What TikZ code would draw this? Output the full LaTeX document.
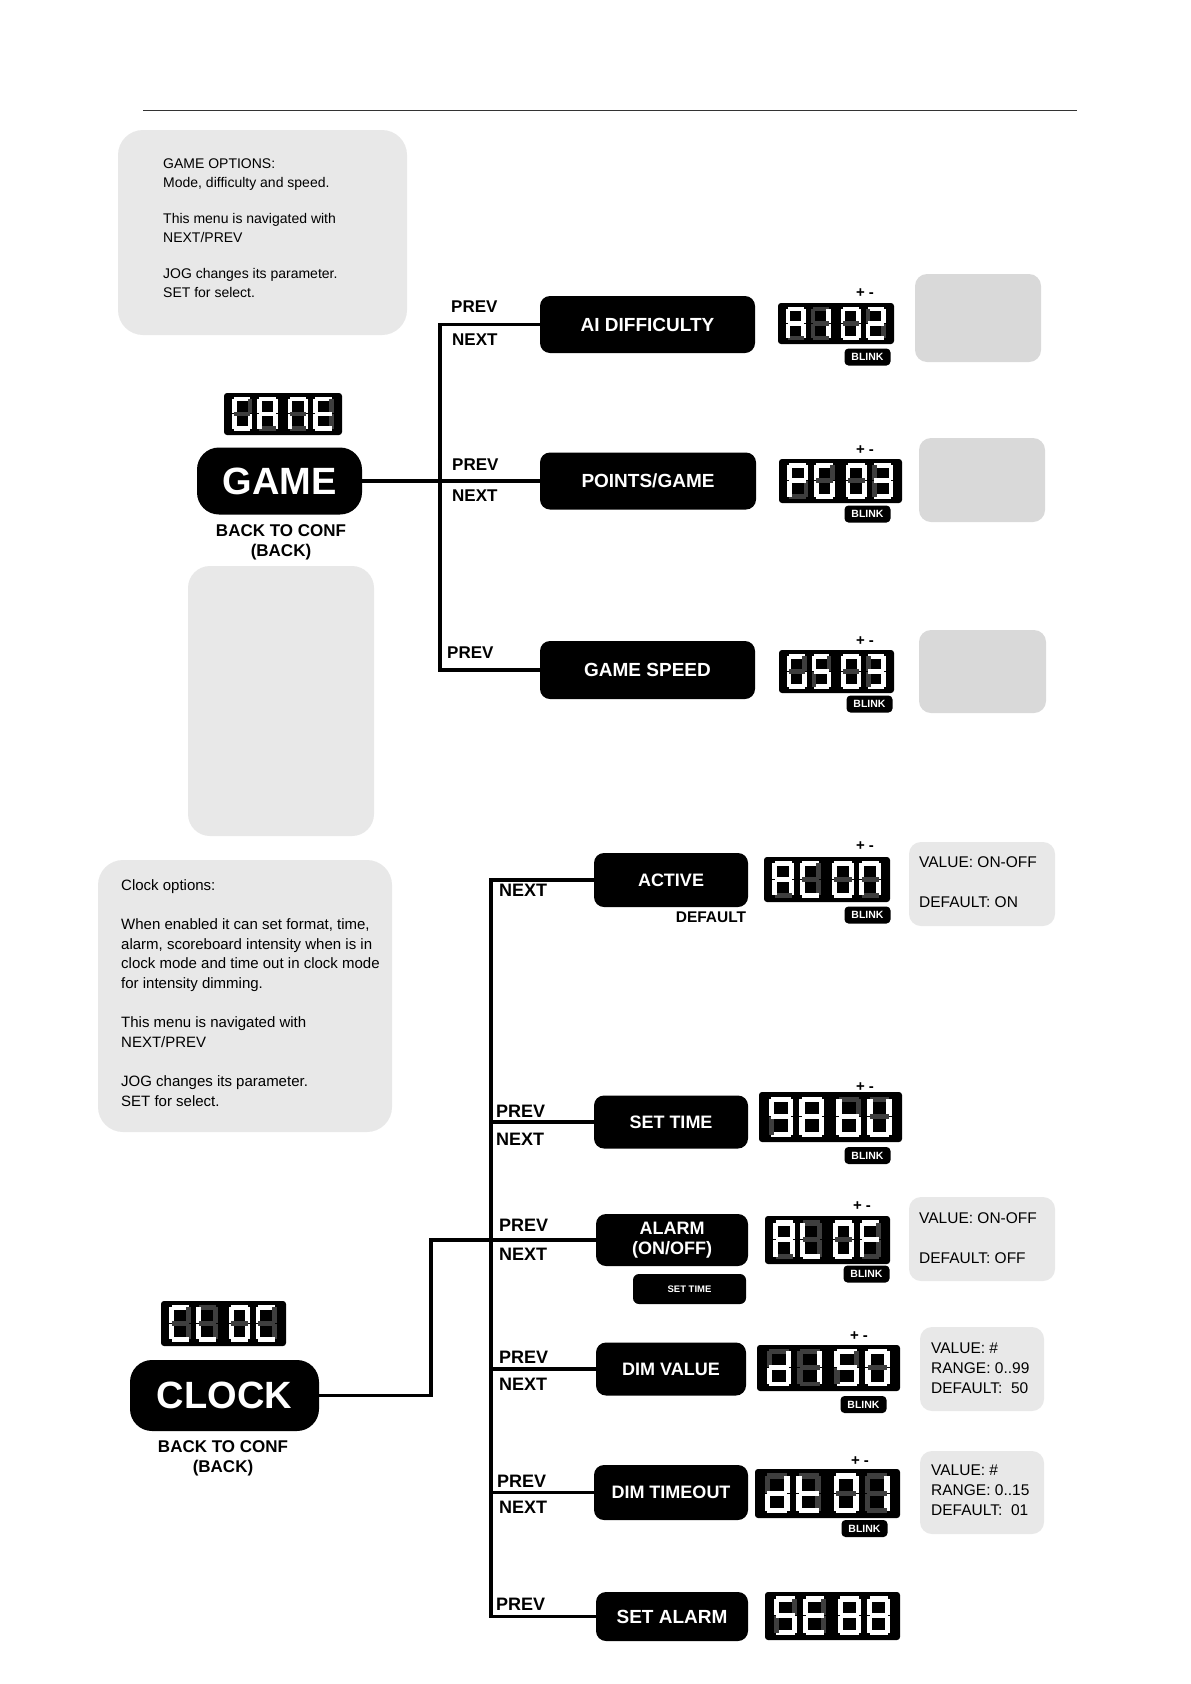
\documentclass[tikz,border=0pt]{standalone}
\usepackage{fontspec}
\setmainfont{Liberation Sans}
\usetikzlibrary{calc}
\definecolor{W}{HTML}{FFFFFF}
\definecolor{G}{HTML}{3E3E3E}
\definecolor{notegray}{HTML}{E8E8E8}
\definecolor{boxgray}{HTML}{D9D9D9}
% one seven-segment digit, 20 x 34, segments a b c d e f g
\newcommand\segs[7]{%
 \fill[fill=#1] (2,0) rectangle (18,4.5);
 \fill[fill=#2] (15.5,2) rectangle (20,16.5);
 \fill[fill=#3] (15.5,17.5) rectangle (20,32);
 \fill[fill=#4] (2,29.5) rectangle (18,34);
 \fill[fill=#5] (0,17.5) rectangle (4.5,32);
 \fill[fill=#6] (0,2) rectangle (4.5,16.5);
 \fill[fill=#7] (2,14.75) rectangle (18,19.25);}
\expandafter\def\csname dgXA\endcsname{\segs{W}{W}{W}{G}{W}{W}{W}}
\expandafter\def\csname dgXC\endcsname{\segs{W}{G}{G}{W}{W}{W}{G}}
\expandafter\def\csname dgXE\endcsname{\segs{W}{G}{G}{W}{W}{W}{W}}
\expandafter\def\csname dgXF\endcsname{\segs{W}{G}{G}{G}{W}{W}{W}}
\expandafter\def\csname dgXG\endcsname{\segs{W}{G}{W}{W}{W}{W}{G}}
\expandafter\def\csname dgXL\endcsname{\segs{G}{G}{G}{W}{W}{W}{G}}
\expandafter\def\csname dgXN\endcsname{\segs{W}{W}{W}{G}{W}{W}{G}}
\expandafter\def\csname dgXP\endcsname{\segs{W}{W}{G}{G}{W}{W}{W}}
\expandafter\def\csname dgXS\endcsname{\segs{W}{G}{W}{W}{G}{W}{W}}
\expandafter\def\csname dgXb\endcsname{\segs{G}{G}{W}{W}{W}{W}{W}}
\expandafter\def\csname dgXd\endcsname{\segs{G}{W}{W}{W}{W}{G}{W}}
\expandafter\def\csname dgXt\endcsname{\segs{G}{G}{G}{W}{W}{W}{W}}
\expandafter\def\csname dgXU\endcsname{\segs{G}{W}{W}{W}{W}{W}{G}}
\expandafter\def\csname dgX0\endcsname{\segs{W}{W}{W}{W}{W}{W}{G}}
\expandafter\def\csname dgX1\endcsname{\segs{G}{W}{W}{G}{G}{G}{G}}
\expandafter\def\csname dgX2\endcsname{\segs{W}{W}{G}{W}{W}{G}{W}}
\expandafter\def\csname dgX3\endcsname{\segs{W}{W}{W}{W}{G}{G}{W}}
\expandafter\def\csname dgX5\endcsname{\segs{W}{G}{W}{W}{G}{W}{W}}
\expandafter\def\csname dgX8\endcsname{\segs{W}{W}{W}{W}{W}{W}{W}}
\expandafter\def\csname dgX9\endcsname{\segs{W}{W}{W}{W}{G}{W}{W}}
\newcommand\dg[2]{\begin{scope}[shift={(#1,4)}]\csname dgX#2\endcsname\end{scope}}
% display: name, cx, cy, width, height, four digits
\newcommand\disp[9]{%
 \node[dispbox, minimum width=#4, minimum height=#5] (#1) at (#2,#3) {};
 \begin{scope}[shift={(#1.north west)}, xscale=#4/116, yscale=#5/42]
  \dg{8}{#6}\dg{33}{#7}\dg{63}{#8}\dg{88}{#9}
 \end{scope}}
\tikzset{
 note/.style={fill=notegray, rounded corners=25, draw=none, inner sep=0},
 gbox/.style={fill=boxgray, rounded corners=12, draw=none, inner sep=0},
 vbox/.style={fill=notegray, rounded corners=12, draw=none, inner sep=0},
 menubtn/.style={fill=black, rounded corners=10, text=white, font=\fontsize{19}{20}\selectfont\bfseries, inner sep=0, align=center},
 bigbtn/.style={fill=black, rounded corners=22, text=white, font=\fontsize{38}{40}\selectfont\bfseries, inner sep=0},
 dispbox/.style={fill=black, rounded corners=3, inner sep=0},
 blink/.style={fill=black, rounded corners=4, text=white, font=\fontsize{10.5}{11}\selectfont\bfseries, inner sep=0, minimum width=46, minimum height=17},
 pm/.style={font=\fontsize{15}{16}\selectfont\bfseries, inner sep=0},
 lbl/.style={font=\fontsize{17}{18}\selectfont\bfseries, inner sep=0, anchor=west},
 clbl/.style={font=\fontsize{18}{19}\selectfont\bfseries, inner sep=0, anchor=west},
 backlbl/.style={font=\fontsize{17}{19.5}\selectfont\bfseries, align=center, inner sep=0},
 notetxt/.style={align=left, inner sep=0, anchor=north west},
 valtxt/.style={font=\fontsize{15.5}{20}\selectfont, align=left, inner sep=0, anchor=west},
 conn/.style={line width=3.6, line join=miter},
}
\begin{document}
\begin{tikzpicture}[x=1pt,y=-1pt]
\fill[white] (0,0) rectangle (1191,1684);
\useasboundingbox (0,0) rectangle (1191,1684);
\draw[line width=1.2, black!80] (143,110.6) -- (1077,110.6);

% ---------------- GAME section ----------------
\node[note, minimum width=289, minimum height=205] (gamenote) at (262.5,232.5) {};
\node[notetxt, font=\fontsize{14}{18.3}\selectfont] (gamenotetxt) at (163,159) {GAME OPTIONS:\\ Mode, difficulty and speed.\\[18.3pt] This menu is navigated with\\ NEXT/PREV\\[18.3pt] JOG changes its parameter.\\ SET for select.};

\disp{gamedisp}{283}{414}{118}{42}{G}{A}{N}{E}
\node[bigbtn, minimum width=165, minimum height=67] (game) at (279.5,481) {GAME};
\node[backlbl] (gameback) at (281,542.5) {BACK TO CONF\\(BACK)};
\node[note, rounded corners=22, minimum width=186, minimum height=270] (emptybox) at (281,701) {};

\node[menubtn, minimum width=215, minimum height=57] (ai) at (647.5,324.5) {AI DIFFICULTY};
\node[menubtn, minimum width=216, minimum height=57] (pts) at (648,481) {POINTS/GAME};
\node[menubtn, minimum width=215, minimum height=58] (spd) at (647.5,670) {GAME SPEED};

\coordinate (gv) at (440,0);
\draw[conn] (ai.west) -- (ai.west -| gv) -- (spd.west -| gv) -- (spd.west);
\draw[conn] (game.east) -- (pts.west);

\node[lbl] (aiprev) at (451,307) {PREV};
\node[lbl] (ainext) at (452,340) {NEXT};
\node[lbl] (ptsprev) at (452,465) {PREV};
\node[lbl] (ptsnext) at (452,496) {NEXT};
\node[lbl] (spdprev) at (447,653) {PREV};

\disp{aidisp}{836}{323.5}{116}{41}{A}{1}{0}{2}
\disp{ptsdisp}{840.5}{481}{123}{44}{P}{G}{0}{3}
\disp{spddisp}{836.5}{671.5}{115}{43}{G}{S}{0}{3}
\node[pm] (aipm) at (865,293) {+ -};
\node[pm] (ptspm) at (865,450) {+ -};
\node[pm] (spdpm) at (865,641) {+ -};
\node[blink] (aiblink) at (867.5,357) {BLINK};
\node[blink] (ptsblink) at (867.5,514) {BLINK};
\node[blink] (spdblink) at (869.5,704) {BLINK};
\node[gbox, minimum width=126, minimum height=88] (aibox) at (978,318) {};
\node[gbox, minimum width=126, minimum height=84] (ptsbox) at (982,480) {};
\node[gbox, minimum width=127, minimum height=83] (spdbox) at (982.5,671.5) {};

% ---------------- CLOCK section ----------------
\node[note, minimum width=294, minimum height=272] (clocknote) at (245,996) {};
\node[notetxt, font=\fontsize{15}{19.6}\selectfont] (clocknotetxt) at (121,879.5) {Clock options:\\[19.6pt] When enabled it can set format, time,\\ alarm, scoreboard intensity when is in\\ clock mode and time out in clock mode\\ for intensity dimming.\\[19.6pt] This menu is navigated with\\ NEXT/PREV\\[19.6pt] JOG changes its parameter.\\ SET for select.};

\disp{clockdisp}{223.5}{1323.5}{125}{45}{C}{L}{0}{C}
\node[bigbtn, minimum width=189, minimum height=71] (clock) at (224.5,1395.5) {CLOCK};
\node[backlbl] (clockback) at (223,1458.5) {BACK TO CONF\\(BACK)};

\node[menubtn, font=\fontsize{18}{20}\selectfont\bfseries, minimum width=154, minimum height=54] (act) at (671,880) {ACTIVE};
\node[menubtn, font=\fontsize{18}{20}\selectfont\bfseries, minimum width=154, minimum height=53] (stime) at (671,1122) {SET TIME};
\node[menubtn, font=\fontsize{18}{20}\selectfont\bfseries, minimum width=152, minimum height=52] (alarm) at (672,1240) {ALARM\\(ON/OFF)};
\node[menubtn, font=\fontsize{9.5}{10}\selectfont\bfseries, rounded corners=6, minimum width=113, minimum height=30] (alset) at (689.5,1289) {SET TIME};
\node[menubtn, font=\fontsize{18}{20}\selectfont\bfseries, minimum width=150, minimum height=53] (dimv) at (671,1369) {DIM VALUE};
\node[menubtn, font=\fontsize{18}{20}\selectfont\bfseries, minimum width=154, minimum height=55] (dimt) at (671,1492.5) {DIM TIMEOUT};
\node[menubtn, font=\fontsize{19}{20}\selectfont\bfseries, minimum width=152, minimum height=49] (salarm) at (672,1616.5) {SET ALARM};

\coordinate (cv) at (491,0);
\draw[conn] (act.west) -- (act.west -| cv) -- (salarm.west -| cv) -- (salarm.west);
\draw[conn] (stime.west -| cv) -- (stime.west);
\draw[conn] (dimv.west -| cv) -- (dimv.west);
\draw[conn] (dimt.west -| cv) -- (dimt.west);
\draw[conn] (clock.east) -- ++(112,0) |- (alarm.west);

\node[clbl] (actnext) at (499,890) {NEXT};
\node[font=\fontsize{15.5}{16}\selectfont\bfseries, inner sep=0] (actdef) at (711,917) {DEFAULT};
\node[clbl] (stprev) at (496,1111) {PREV};
\node[clbl] (stnext) at (496,1139) {NEXT};
\node[clbl] (alprev) at (499,1225) {PREV};
\node[clbl] (alnext) at (499,1254) {NEXT};
\node[clbl] (dvprev) at (499,1357) {PREV};
\node[clbl] (dvnext) at (499,1384) {NEXT};
\node[clbl] (dtprev) at (497,1481) {PREV};
\node[clbl] (dtnext) at (499,1507) {NEXT};
\node[clbl] (saprev) at (496,1604) {PREV};

\disp{actdisp}{827}{879.5}{126}{45}{A}{C}{0}{N}
\disp{stdisp}{830.5}{1117}{143}{50}{9}{8}{b}{U}
\disp{aldisp}{827.5}{1240}{125}{48}{A}{L}{0}{F}
\disp{dvdisp}{828.5}{1368}{143}{46}{d}{1}{5}{0}
\disp{dtdisp}{827.5}{1493.5}{145}{49}{d}{t}{0}{1}
\disp{sadisp}{832.5}{1616}{135}{48}{S}{E}{8}{8}

\node[pm] (actpm) at (865,846) {+ -};
\node[pm] (stpm) at (865,1087) {+ -};
\node[pm] (alpm) at (862,1206) {+ -};
\node[pm] (dvpm) at (859,1336) {+ -};
\node[pm] (dtpm) at (860,1461) {+ -};
\node[blink] (actblink) at (867.5,915) {BLINK};
\node[blink] (stblink) at (867.5,1155.5) {BLINK};
\node[blink] (alblink) at (866.5,1274) {BLINK};
\node[blink] (dvblink) at (863.5,1404.5) {BLINK};
\node[blink] (dtblink) at (864.5,1528.5) {BLINK};

\node[vbox, minimum width=146, minimum height=84] (actbox) at (982,884) {};
\node[valtxt] (actv1) at (919,862) {VALUE: ON-OFF};
\node[valtxt] (actv2) at (919,902) {DEFAULT: ON};
\node[vbox, minimum width=146, minimum height=84] (albox) at (982,1239) {};
\node[valtxt] (alv1) at (919,1218) {VALUE: ON-OFF};
\node[valtxt] (alv2) at (919,1258) {DEFAULT: OFF};
\node[vbox, minimum width=124, minimum height=84] (dvbox) at (982,1369) {};
\node[valtxt] (dvv) at (931,1368) {VALUE: \#\\ RANGE: 0..99\\ DEFAULT:~ 50};
\node[vbox, minimum width=124, minimum height=83] (dtbox) at (982,1492.5) {};
\node[valtxt] (dtv) at (931,1490) {VALUE: \#\\ RANGE: 0..15\\ DEFAULT:~ 01};
\end{tikzpicture}
\end{document}
